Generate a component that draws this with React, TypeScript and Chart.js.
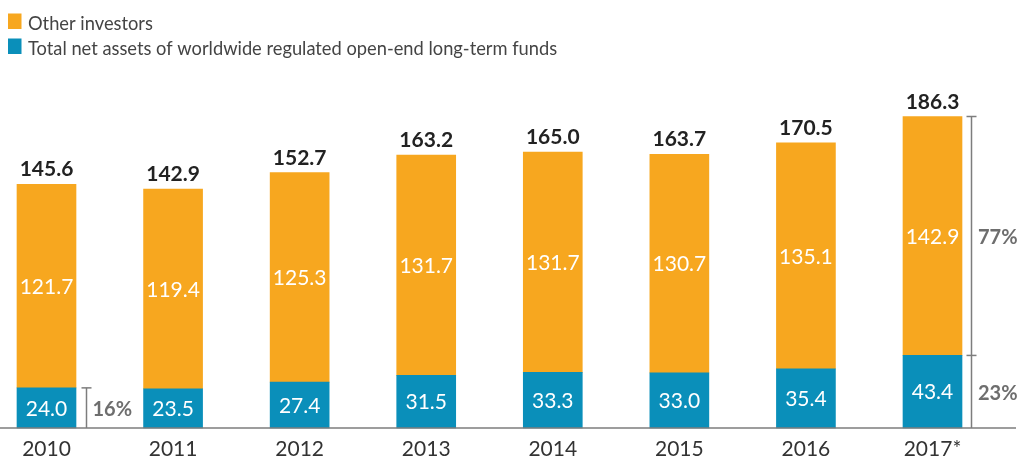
import React, { useEffect, useRef } from "react";
import { Chart, registerables } from "chart.js";

Chart.register(...registerables);

// ---- data ----
const categories = ["2010", "2011", "2012", "2013", "2014", "2015", "2016", "2017*"];
const fundAssets = [24.0, 23.5, 27.4, 31.5, 33.3, 33.0, 35.4, 43.4];
const otherInvestors = [121.7, 119.4, 125.3, 131.7, 131.7, 130.7, 135.1, 142.9];
const totals = [145.6, 142.9, 152.7, 163.2, 165.0, 163.7, 170.5, 186.3];
const seriesNames = [
  "Other investors",
  "Total net assets of worldwide regulated open-end long-term funds",
];

const ORANGE = "#F7A71F";
const BLUE = "#0A8FBA";
const FONT = "Lato, 'Noto Sans', sans-serif";

const legendPlugin = {
  id: "customLegend",
  afterDraw(chart: any) {
    const ctx = chart.ctx;
    ctx.save();
    const colors = [ORANGE, BLUE];
    ctx.font = `400 18.3px ${FONT}`;
    ctx.textAlign = "left";
    ctx.textBaseline = "alphabetic";
    seriesNames.forEach((name, i) => {
      const y0 = 13.5 + i * 25;
      ctx.fillStyle = colors[i];
      ctx.fillRect(8, y0, 13.5, 15.5);
      ctx.fillStyle = "#444";
      ctx.fillText(name, 28, y0 + 16);
    });
    ctx.restore();
  },
};

const labelPlugin = {
  id: "valueLabels",
  afterDatasetsDraw(chart: any) {
    const ctx = chart.ctx;
    const blue = chart.getDatasetMeta(0).data;
    const orange = chart.getDatasetMeta(1).data;
    const base = chart.scales.y.getPixelForValue(0);
    ctx.save();
    // baseline across full width
    ctx.strokeStyle = "#7d7d7d";
    ctx.lineWidth = 1.5;
    ctx.beginPath();
    ctx.moveTo(0, base);
    ctx.lineTo(1016, base);
    ctx.stroke();

    // inside labels
    ctx.textAlign = "center";
    ctx.textBaseline = "middle";
    ctx.fillStyle = "#ffffff";
    ctx.font = `400 21px ${FONT}`;
    blue.forEach((b: any, i: number) => {
      const bp = b.getProps(["x", "y", "base"], true);
      ctx.fillText(fundAssets[i].toFixed(1), bp.x, (bp.y + bp.base) / 2 + 1);
      const op = orange[i].getProps(["x", "y", "base"], true);
      ctx.fillText(otherInvestors[i].toFixed(1), op.x, (op.y + op.base) / 2 + 1);
    });

    // totals
    ctx.font = `700 21px ${FONT}`;
    ctx.fillStyle = "#222";
    ctx.textBaseline = "alphabetic";
    orange.forEach((o: any, i: number) => {
      const op = o.getProps(["x", "y"], true);
      ctx.fillText(totals[i].toFixed(1), op.x, op.y - 8);
    });

    // brackets
    ctx.strokeStyle = "#7d7d7d";
    ctx.lineWidth = 1.5;
    ctx.fillStyle = "#6e6e6e";
    ctx.font = `700 20px ${FONT}`;
    ctx.textAlign = "left";
    ctx.textBaseline = "middle";
    const tick = (x: number, y: number) => {
      ctx.beginPath();
      ctx.moveTo(x - 5, y);
      ctx.lineTo(x + 5, y);
      ctx.stroke();
    };
    const vline = (x: number, y1: number, y2: number) => {
      ctx.beginPath();
      ctx.moveTo(x, y1);
      ctx.lineTo(x, y2);
      ctx.stroke();
    };
    // first bar: share of funds
    {
      const bp = blue[0].getProps(["x", "y", "base", "width"], true);
      const x = bp.x + bp.width / 2 + 10.5;
      vline(x, bp.y, bp.base);
      tick(x, bp.y);
      const pct = Math.round((fundAssets[0] / totals[0]) * 100);
      ctx.fillText(pct + "%", x + 6, (bp.y + bp.base) / 2 + 2);
    }
    // last bar: both shares
    {
      const n = categories.length - 1;
      const bp = blue[n].getProps(["x", "y", "base", "width"], true);
      const op = orange[n].getProps(["x", "y", "base", "width"], true);
      const x = bp.x + bp.width / 2 + 9.5;
      vline(x, op.y, bp.base);
      tick(x, op.y);
      tick(x, bp.y);
      const pb = Math.round((fundAssets[n] / totals[n]) * 100);
      const po = Math.round((otherInvestors[n] / totals[n]) * 100);
      ctx.fillText(po + "%", x + 6.5, (op.y + op.base) / 2 + 2);
      ctx.fillText(pb + "%", x + 6.5, (bp.y + bp.base) / 2 + 2);
    }
    ctx.restore();
  },
};

export default function App() {
  const ref = useRef<HTMLCanvasElement | null>(null);
  useEffect(() => {
    if (!ref.current) return;
    const chart = new Chart(ref.current, {
      type: "bar",
      data: {
        labels: categories,
        datasets: [
          {
            label: seriesNames[1],
            data: fundAssets,
            backgroundColor: BLUE,
            barThickness: 59,
            clip: false as any,
          },
          {
            label: seriesNames[0],
            data: otherInvestors,
            backgroundColor: ORANGE,
            barThickness: 59,
            clip: false as any,
          },
        ],
      },
      options: {
        animation: false,
        responsive: true,
        maintainAspectRatio: false,
        layout: { padding: { left: 46.5, right: 87.5, top: 93.6, bottom: 0 } },
        plugins: { legend: { display: false }, tooltip: { enabled: false } },
        scales: {
          x: {
            stacked: true,
            offset: false,
            grid: { display: false, drawTicks: false },
            border: { display: false },
            ticks: {
              color: "#333",
              font: { family: FONT, size: 21 },
              padding: 9,
              maxRotation: 0,
              autoSkip: false,
            },
            afterFit: (s: any) => {
              s.height = 34;
            },
          },
          y: { stacked: true, display: false, min: 0, max: 200 },
        },
      },
      plugins: [legendPlugin, labelPlugin],
    });
    return () => chart.destroy();
  }, []);
  return (
    <div style={{ position: "fixed", left: 0, top: 0, width: 1020, height: 462, background: "#fff" }}>
      <canvas ref={ref} style={{ display: "block" }} />
    </div>
  );
}
